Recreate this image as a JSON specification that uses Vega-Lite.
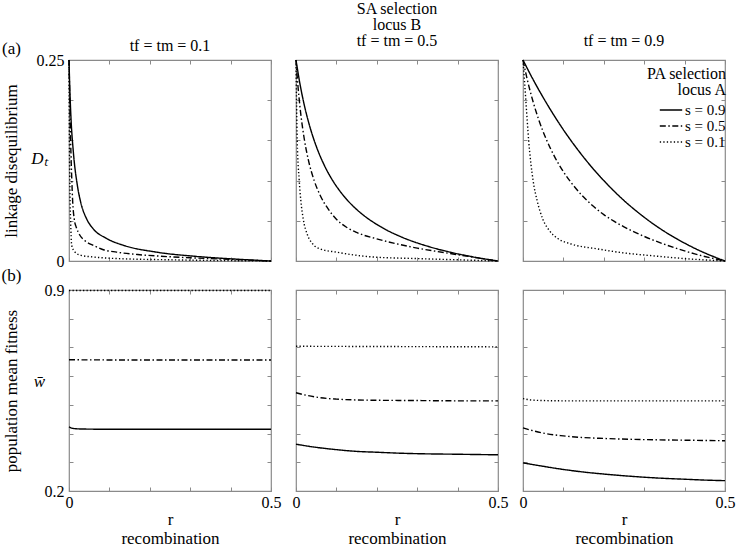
{
  "$schema": "https://vega.github.io/schema/vega-lite/v6.json",
  "background": "white",
  "padding": {"left": 0, "top": 0, "right": 0, "bottom": 0},
  "config": {
    "font": "Liberation Serif",
    "style": {"guide-label": {"font": "Liberation Serif"}, "guide-title": {"font": "Liberation Serif"}, "group-title": {"font": "Liberation Serif"}},
    "view": {"stroke": "#8a8a8a", "strokeWidth": 1.2},
    "axis": {"domain": false, "grid": false, "tickColor": "#8a8a8a", "tickSize": -4, "tickWidth": 1, "labelFont": "Liberation Serif", "labelFontSize": 16, "labelColor": "black", "labelFlush": false, "labelOverlap": false, "labelPadding": 9, "titleFont": "Liberation Serif", "titleFontSize": 17, "titleFontWeight": "normal", "titleColor": "black"},
    "legend": {"labelFont": "Liberation Serif", "titleFont": "Liberation Serif"},
    "title": {"font": "Liberation Serif", "fontSize": 16, "fontWeight": "normal", "color": "black", "offset": 8, "lineHeight": 16}
  },
  "datasets": {
    "ld": [
      {"t":0.1,"s":"0.9","r":0,"v":0.25},{"t":0.1,"s":"0.9","r":0.0017,"v":0.219},{"t":0.1,"s":"0.9","r":0.005,"v":0.177},{"t":0.1,"s":"0.9","r":0.0107,"v":0.136},{"t":0.1,"s":"0.9","r":0.0207,"v":0.094},{"t":0.1,"s":"0.9","r":0.029,"v":0.073},{"t":0.1,"s":"0.9","r":0.044,"v":0.052},{"t":0.1,"s":"0.9","r":0.06,"v":0.04},{"t":0.1,"s":"0.9","r":0.093,"v":0.028},{"t":0.1,"s":"0.9","r":0.135,"v":0.0195},{"t":0.1,"s":"0.9","r":0.217,"v":0.011},{"t":0.1,"s":"0.9","r":0.308,"v":0.006},{"t":0.1,"s":"0.9","r":0.391,"v":0.003},{"t":0.1,"s":"0.9","r":0.45,"v":0.0013},{"t":0.1,"s":"0.9","r":0.5,"v":0},
      {"t":0.1,"s":"0.5","r":0,"v":0.25},{"t":0.1,"s":"0.5","r":0.002,"v":0.2},{"t":0.1,"s":"0.5","r":0.004,"v":0.15},{"t":0.1,"s":"0.5","r":0.007,"v":0.1},{"t":0.1,"s":"0.5","r":0.009,"v":0.075},{"t":0.1,"s":"0.5","r":0.013,"v":0.052},{"t":0.1,"s":"0.5","r":0.018,"v":0.042},{"t":0.1,"s":"0.5","r":0.027,"v":0.032},{"t":0.1,"s":"0.5","r":0.04,"v":0.025},{"t":0.1,"s":"0.5","r":0.06,"v":0.0195},{"t":0.1,"s":"0.5","r":0.085,"v":0.014},{"t":0.1,"s":"0.5","r":0.118,"v":0.011},{"t":0.1,"s":"0.5","r":0.17,"v":0.008},{"t":0.1,"s":"0.5","r":0.226,"v":0.006},{"t":0.1,"s":"0.5","r":0.3,"v":0.004},{"t":0.1,"s":"0.5","r":0.4,"v":0.002},{"t":0.1,"s":"0.5","r":0.5,"v":0},
      {"t":0.1,"s":"0.1","r":0,"v":0.25},{"t":0.1,"s":"0.1","r":0.001,"v":0.15},{"t":0.1,"s":"0.1","r":0.0025,"v":0.08},{"t":0.1,"s":"0.1","r":0.004,"v":0.05},{"t":0.1,"s":"0.1","r":0.0066,"v":0.0195},{"t":0.1,"s":"0.1","r":0.015,"v":0.011},{"t":0.1,"s":"0.1","r":0.03,"v":0.007},{"t":0.1,"s":"0.1","r":0.06,"v":0.005},{"t":0.1,"s":"0.1","r":0.12,"v":0.003},{"t":0.1,"s":"0.1","r":0.25,"v":0.0015},{"t":0.1,"s":"0.1","r":0.5,"v":0},
      {"t":0.5,"s":"0.9","r":0,"v":0.25},{"t":0.5,"s":"0.9","r":0.01,"v":0.2197},{"t":0.5,"s":"0.9","r":0.02,"v":0.1951},{"t":0.5,"s":"0.9","r":0.035,"v":0.1658},{"t":0.5,"s":"0.9","r":0.05,"v":0.1429},{"t":0.5,"s":"0.9","r":0.07,"v":0.1191},{"t":0.5,"s":"0.9","r":0.09,"v":0.1007},{"t":0.5,"s":"0.9","r":0.11,"v":0.0861},{"t":0.5,"s":"0.9","r":0.13,"v":0.0741},{"t":0.5,"s":"0.9","r":0.15,"v":0.0642},{"t":0.5,"s":"0.9","r":0.175,"v":0.0539},{"t":0.5,"s":"0.9","r":0.2,"v":0.0455},{"t":0.5,"s":"0.9","r":0.225,"v":0.0383},{"t":0.5,"s":"0.9","r":0.25,"v":0.0323},{"t":0.5,"s":"0.9","r":0.275,"v":0.027},{"t":0.5,"s":"0.9","r":0.3,"v":0.0225},{"t":0.5,"s":"0.9","r":0.325,"v":0.0185},{"t":0.5,"s":"0.9","r":0.35,"v":0.0149},{"t":0.5,"s":"0.9","r":0.375,"v":0.0118},{"t":0.5,"s":"0.9","r":0.4,"v":0.0089},{"t":0.5,"s":"0.9","r":0.425,"v":0.0064},{"t":0.5,"s":"0.9","r":0.45,"v":0.004},{"t":0.5,"s":"0.9","r":0.475,"v":0.0019},{"t":0.5,"s":"0.9","r":0.5,"v":0},
      {"t":0.5,"s":"0.5","r":0,"v":0.25},{"t":0.5,"s":"0.5","r":0.005,"v":0.2168},{"t":0.5,"s":"0.5","r":0.01,"v":0.191},{"t":0.5,"s":"0.5","r":0.02,"v":0.1533},{"t":0.5,"s":"0.5","r":0.03,"v":0.127},{"t":0.5,"s":"0.5","r":0.045,"v":0.1},{"t":0.5,"s":"0.5","r":0.06,"v":0.0815},{"t":0.5,"s":"0.5","r":0.08,"v":0.0644},{"t":0.5,"s":"0.5","r":0.1,"v":0.052},{"t":0.5,"s":"0.5","r":0.125,"v":0.042},{"t":0.5,"s":"0.5","r":0.15,"v":0.0355},{"t":0.5,"s":"0.5","r":0.2,"v":0.0275},{"t":0.5,"s":"0.5","r":0.25,"v":0.0213},{"t":0.5,"s":"0.5","r":0.3,"v":0.016},{"t":0.5,"s":"0.5","r":0.35,"v":0.0118},{"t":0.5,"s":"0.5","r":0.4,"v":0.0078},{"t":0.5,"s":"0.5","r":0.45,"v":0.0039},{"t":0.5,"s":"0.5","r":0.5,"v":0},
      {"t":0.5,"s":"0.1","r":0,"v":0.25},{"t":0.5,"s":"0.1","r":0.003,"v":0.15},{"t":0.5,"s":"0.1","r":0.008,"v":0.1},{"t":0.5,"s":"0.1","r":0.012,"v":0.075},{"t":0.5,"s":"0.1","r":0.018,"v":0.052},{"t":0.5,"s":"0.1","r":0.028,"v":0.033},{"t":0.5,"s":"0.1","r":0.041,"v":0.0215},{"t":0.5,"s":"0.1","r":0.06,"v":0.015},{"t":0.5,"s":"0.1","r":0.1,"v":0.011},{"t":0.5,"s":"0.1","r":0.19,"v":0.005},{"t":0.5,"s":"0.1","r":0.3,"v":0.003},{"t":0.5,"s":"0.1","r":0.4,"v":0.0015},{"t":0.5,"s":"0.1","r":0.5,"v":0},
      {"t":0.9,"s":"0.9","r":0,"v":0.25},{"t":0.9,"s":"0.9","r":0.025,"v":0.2257},{"t":0.9,"s":"0.9","r":0.05,"v":0.2033},{"t":0.9,"s":"0.9","r":0.075,"v":0.1825},{"t":0.9,"s":"0.9","r":0.1,"v":0.1632},{"t":0.9,"s":"0.9","r":0.125,"v":0.1455},{"t":0.9,"s":"0.9","r":0.15,"v":0.1291},{"t":0.9,"s":"0.9","r":0.175,"v":0.1139},{"t":0.9,"s":"0.9","r":0.2,"v":0.1},{"t":0.9,"s":"0.9","r":0.225,"v":0.0871},{"t":0.9,"s":"0.9","r":0.25,"v":0.0752},{"t":0.9,"s":"0.9","r":0.275,"v":0.0644},{"t":0.9,"s":"0.9","r":0.3,"v":0.0544},{"t":0.9,"s":"0.9","r":0.325,"v":0.0452},{"t":0.9,"s":"0.9","r":0.35,"v":0.0368},{"t":0.9,"s":"0.9","r":0.375,"v":0.0292},{"t":0.9,"s":"0.9","r":0.4,"v":0.0222},{"t":0.9,"s":"0.9","r":0.425,"v":0.0158},{"t":0.9,"s":"0.9","r":0.45,"v":0.01},{"t":0.9,"s":"0.9","r":0.475,"v":0.0048},{"t":0.9,"s":"0.9","r":0.5,"v":0},
      {"t":0.9,"s":"0.5","r":0,"v":0.25},{"t":0.9,"s":"0.5","r":0.01,"v":0.2269},{"t":0.9,"s":"0.5","r":0.025,"v":0.198},{"t":0.9,"s":"0.5","r":0.04,"v":0.1742},{"t":0.9,"s":"0.5","r":0.058,"v":0.151},{"t":0.9,"s":"0.5","r":0.08,"v":0.128},{"t":0.9,"s":"0.5","r":0.1,"v":0.1111},{"t":0.9,"s":"0.5","r":0.125,"v":0.0938},{"t":0.9,"s":"0.5","r":0.15,"v":0.0795},{"t":0.9,"s":"0.5","r":0.175,"v":0.0677},{"t":0.9,"s":"0.5","r":0.2,"v":0.0577},{"t":0.9,"s":"0.5","r":0.225,"v":0.0495},{"t":0.9,"s":"0.5","r":0.25,"v":0.0425},{"t":0.9,"s":"0.5","r":0.275,"v":0.0362},{"t":0.9,"s":"0.5","r":0.3,"v":0.0306},{"t":0.9,"s":"0.5","r":0.325,"v":0.0255},{"t":0.9,"s":"0.5","r":0.35,"v":0.0208},{"t":0.9,"s":"0.5","r":0.375,"v":0.0165},{"t":0.9,"s":"0.5","r":0.4,"v":0.0125},{"t":0.9,"s":"0.5","r":0.425,"v":0.0089},{"t":0.9,"s":"0.5","r":0.45,"v":0.0056},{"t":0.9,"s":"0.5","r":0.475,"v":0.0027},{"t":0.9,"s":"0.5","r":0.5,"v":0},
      {"t":0.9,"s":"0.1","r":0,"v":0.25},{"t":0.9,"s":"0.1","r":0.007,"v":0.2},{"t":0.9,"s":"0.1","r":0.014,"v":0.15},{"t":0.9,"s":"0.1","r":0.025,"v":0.1},{"t":0.9,"s":"0.1","r":0.035,"v":0.075},{"t":0.9,"s":"0.1","r":0.049,"v":0.052},{"t":0.9,"s":"0.1","r":0.065,"v":0.038},{"t":0.9,"s":"0.1","r":0.086,"v":0.028},{"t":0.9,"s":"0.1","r":0.12,"v":0.021},{"t":0.9,"s":"0.1","r":0.185,"v":0.015},{"t":0.9,"s":"0.1","r":0.25,"v":0.01},{"t":0.9,"s":"0.1","r":0.31,"v":0.007},{"t":0.9,"s":"0.1","r":0.4,"v":0.003},{"t":0.9,"s":"0.1","r":0.5,"v":0}
    ],
    "fit": [
      {"t":0.1,"s":"0.9","r":0,"v":0.423},{"t":0.1,"s":"0.9","r":0.01,"v":0.418},{"t":0.1,"s":"0.9","r":0.03,"v":0.416},{"t":0.1,"s":"0.9","r":0.1,"v":0.415},{"t":0.1,"s":"0.9","r":0.3,"v":0.415},{"t":0.1,"s":"0.9","r":0.5,"v":0.415},
      {"t":0.1,"s":"0.5","r":0,"v":0.657},{"t":0.1,"s":"0.5","r":0.25,"v":0.656},{"t":0.1,"s":"0.5","r":0.5,"v":0.656},
      {"t":0.1,"s":"0.1","r":0,"v":0.898},{"t":0.1,"s":"0.1","r":0.25,"v":0.898},{"t":0.1,"s":"0.1","r":0.5,"v":0.898},
      {"t":0.5,"s":"0.9","r":0,"v":0.363},{"t":0.5,"s":"0.9","r":0.05,"v":0.352},{"t":0.5,"s":"0.9","r":0.1,"v":0.344},{"t":0.5,"s":"0.9","r":0.15,"v":0.338},{"t":0.5,"s":"0.9","r":0.2,"v":0.335},{"t":0.5,"s":"0.9","r":0.25,"v":0.332},{"t":0.5,"s":"0.9","r":0.3,"v":0.33},{"t":0.5,"s":"0.9","r":0.4,"v":0.328},{"t":0.5,"s":"0.9","r":0.5,"v":0.326},
      {"t":0.5,"s":"0.5","r":0,"v":0.542},{"t":0.5,"s":"0.5","r":0.03,"v":0.532},{"t":0.5,"s":"0.5","r":0.06,"v":0.525},{"t":0.5,"s":"0.5","r":0.1,"v":0.52},{"t":0.5,"s":"0.5","r":0.15,"v":0.517},{"t":0.5,"s":"0.5","r":0.2,"v":0.516},{"t":0.5,"s":"0.5","r":0.3,"v":0.515},{"t":0.5,"s":"0.5","r":0.4,"v":0.514},{"t":0.5,"s":"0.5","r":0.5,"v":0.514},
      {"t":0.5,"s":"0.1","r":0,"v":0.704},{"t":0.5,"s":"0.1","r":0.25,"v":0.703},{"t":0.5,"s":"0.1","r":0.5,"v":0.702},
      {"t":0.9,"s":"0.9","r":0,"v":0.298},{"t":0.9,"s":"0.9","r":0.05,"v":0.286},{"t":0.9,"s":"0.9","r":0.1,"v":0.275},{"t":0.9,"s":"0.9","r":0.15,"v":0.266},{"t":0.9,"s":"0.9","r":0.2,"v":0.259},{"t":0.9,"s":"0.9","r":0.25,"v":0.253},{"t":0.9,"s":"0.9","r":0.3,"v":0.248},{"t":0.9,"s":"0.9","r":0.35,"v":0.244},{"t":0.9,"s":"0.9","r":0.4,"v":0.241},{"t":0.9,"s":"0.9","r":0.45,"v":0.238},{"t":0.9,"s":"0.9","r":0.5,"v":0.236},
      {"t":0.9,"s":"0.5","r":0,"v":0.42},{"t":0.9,"s":"0.5","r":0.03,"v":0.408},{"t":0.9,"s":"0.5","r":0.06,"v":0.399},{"t":0.9,"s":"0.5","r":0.1,"v":0.392},{"t":0.9,"s":"0.5","r":0.14,"v":0.387},{"t":0.9,"s":"0.5","r":0.2,"v":0.383},{"t":0.9,"s":"0.5","r":0.3,"v":0.379},{"t":0.9,"s":"0.5","r":0.4,"v":0.377},{"t":0.9,"s":"0.5","r":0.5,"v":0.375},
      {"t":0.9,"s":"0.1","r":0,"v":0.522},{"t":0.9,"s":"0.1","r":0.02,"v":0.517},{"t":0.9,"s":"0.1","r":0.05,"v":0.515},{"t":0.9,"s":"0.1","r":0.1,"v":0.514},{"t":0.9,"s":"0.1","r":0.5,"v":0.514}
    ]
  },
  "bounds": "flush",
  "columns": 3,
  "spacing": {"row": 29, "column": 25},
  "resolve": {"scale": {"x": "independent", "y": "independent", "strokeDash": "independent"}, "axis": {"x": "independent", "y": "independent"}, "legend": {"strokeDash": "independent"}},
  "concat": [
    {
      "width": 202, "height": 201,
      "title": {"text": "tf = tm = 0.1", "font": "Liberation Serif", "dy": 23},
      "data": {"name": "ld"},
      "transform": [{"filter": "datum.t == 0.1"}],
      "resolve": {"axis": {"x": "independent", "y": "independent"}},
      "layer": [
        {"mark": {"type": "line", "color": "black", "strokeWidth": 1.4, "interpolate": "monotone"},
         "encoding": {
           "x": {"field": "r", "type": "quantitative", "scale": {"domain": [0, 0.5], "nice": false}, "axis": {"orient": "bottom", "values": [0, 0.1, 0.2, 0.3, 0.4, 0.5], "labels": false, "title": null}},
           "y": {"field": "v", "type": "quantitative", "scale": {"domain": [0, 0.25], "nice": false, "zero": false}, "axis": {"orient": "left", "values": [0, 0.05, 0.1, 0.15, 0.2, 0.25], "labelFont": "Liberation Serif", "labelExpr": "datum.value == 0 ? '0' : datum.value == 0.25 ? '0.25' : ''", "title": "linkage disequilibrium", "titleX": -58, "titleY": 100.5, "titleAngle": -90, "titleBaseline": "middle", "titleAlign": "center"}},
           "strokeDash": {"field": "s", "type": "nominal", "scale": {"domain": ["0.9", "0.5", "0.1"], "range": [[1, 0], [6, 2.5, 1.5, 2.5], [1.3, 2.2]]}, "legend": null}
         }},
        {"mark": {"type": "line", "opacity": 0},
         "encoding": {
           "x": {"field": "r", "type": "quantitative", "scale": {"domain": [0, 0.5], "nice": false}, "axis": {"orient": "top", "values": [0, 0.1, 0.2, 0.3, 0.4, 0.5], "labels": false, "title": "(a)", "titleX": -58, "titleY": -12, "titleAngle": 0, "titleBaseline": "middle", "titleAlign": "center"}},
           "y": {"field": "v", "type": "quantitative", "scale": {"domain": [0, 0.25], "nice": false, "zero": false}, "axis": {"orient": "left", "ticks": false, "labels": false, "title": "Dₜ", "titleFontStyle": "italic", "titleX": -30, "titleY": 98, "titleAngle": 0, "titleBaseline": "middle", "titleAlign": "center"}},
           "detail": {"field": "s", "type": "nominal"}
         }},
        {"mark": {"type": "line", "opacity": 0},
         "encoding": {
           "x": {"field": "r", "type": "quantitative", "scale": {"domain": [0, 0.5], "nice": false}, "axis": null},
           "y": {"field": "v", "type": "quantitative", "scale": {"domain": [0, 0.25], "nice": false, "zero": false}, "axis": {"orient": "right", "values": [0, 0.05, 0.1, 0.15, 0.2, 0.25], "labels": false, "title": null}},
           "detail": {"field": "s", "type": "nominal"}
         }}
      ]
    },
    {
      "width": 202, "height": 201,
      "title": {"text": ["SA selection", "locus B", "tf = tm = 0.5"], "font": "Liberation Serif"},
      "data": {"name": "ld"},
      "transform": [{"filter": "datum.t == 0.5"}],
      "resolve": {"axis": {"x": "independent", "y": "independent"}},
      "layer": [
        {"mark": {"type": "line", "color": "black", "strokeWidth": 1.4, "interpolate": "monotone"},
         "encoding": {
           "x": {"field": "r", "type": "quantitative", "scale": {"domain": [0, 0.5], "nice": false}, "axis": {"orient": "bottom", "values": [0, 0.1, 0.2, 0.3, 0.4, 0.5], "labels": false, "title": null}},
           "y": {"field": "v", "type": "quantitative", "scale": {"domain": [0, 0.25], "nice": false, "zero": false}, "axis": {"orient": "left", "values": [0, 0.05, 0.1, 0.15, 0.2, 0.25], "labels": false, "title": null}},
           "strokeDash": {"field": "s", "type": "nominal", "scale": {"domain": ["0.9", "0.5", "0.1"], "range": [[1, 0], [6, 2.5, 1.5, 2.5], [1.3, 2.2]]}, "legend": null}
         }},
        {"mark": {"type": "line", "opacity": 0},
         "encoding": {
           "x": {"field": "r", "type": "quantitative", "scale": {"domain": [0, 0.5], "nice": false}, "axis": {"orient": "top", "values": [0, 0.1, 0.2, 0.3, 0.4, 0.5], "labels": false, "title": null}},
           "y": {"field": "v", "type": "quantitative", "scale": {"domain": [0, 0.25], "nice": false, "zero": false}, "axis": {"orient": "right", "values": [0, 0.05, 0.1, 0.15, 0.2, 0.25], "labels": false, "title": null}},
           "detail": {"field": "s", "type": "nominal"}
         }}
      ]
    },
    {
      "width": 202, "height": 201,
      "title": {"text": "tf = tm = 0.9", "font": "Liberation Serif"},
      "data": {"name": "ld"},
      "transform": [{"filter": "datum.t == 0.9"}],
      "resolve": {"axis": {"x": "independent", "y": "independent"}},
      "layer": [
        {"mark": {"type": "line", "color": "black", "strokeWidth": 1.4, "interpolate": "monotone"},
         "encoding": {
           "x": {"field": "r", "type": "quantitative", "scale": {"domain": [0, 0.5], "nice": false}, "axis": {"orient": "bottom", "values": [0, 0.1, 0.2, 0.3, 0.4, 0.5], "labels": false, "title": null}},
           "y": {"field": "v", "type": "quantitative", "scale": {"domain": [0, 0.25], "nice": false, "zero": false}, "axis": {"orient": "left", "values": [0, 0.05, 0.1, 0.15, 0.2, 0.25], "labels": false, "title": null}},
           "strokeDash": {"field": "s", "type": "nominal", "scale": {"domain": ["0.9", "0.5", "0.1"], "range": [[1, 0], [6, 2.5, 1.5, 2.5], [1.3, 2.2]]},
             "legend": {"orient": "none", "legendX": 123, "legendY": 6, "title": ["PA selection", "locus A"], "titleAnchor": "end", "titleAlign": "right", "titleFont": "Liberation Serif", "titleFontSize": 16, "titleFontWeight": "normal", "titleColor": "black", "titleLineHeight": 16, "titlePadding": 4, "labelFont": "Liberation Serif", "labelFontSize": 15, "labelColor": "black", "labelExpr": "'s = ' + datum.label", "symbolType": "M-1.6,0H1.6", "symbolStrokeColor": "black", "symbolStrokeWidth": 1.3, "symbolSize": 196, "rowPadding": -4, "labelOffset": 6, "padding": 0}}
         }},
        {"mark": {"type": "line", "opacity": 0},
         "encoding": {
           "x": {"field": "r", "type": "quantitative", "scale": {"domain": [0, 0.5], "nice": false}, "axis": {"orient": "top", "values": [0, 0.1, 0.2, 0.3, 0.4, 0.5], "labels": false, "title": null}},
           "y": {"field": "v", "type": "quantitative", "scale": {"domain": [0, 0.25], "nice": false, "zero": false}, "axis": {"orient": "right", "values": [0, 0.05, 0.1, 0.15, 0.2, 0.25], "labels": false, "title": null}},
           "detail": {"field": "s", "type": "nominal"}
         }}
      ]
    },
    {
      "width": 202, "height": 201,
      "data": {"name": "fit"},
      "transform": [{"filter": "datum.t == 0.1"}],
      "resolve": {"axis": {"x": "independent", "y": "independent"}},
      "layer": [
        {"mark": {"type": "line", "color": "black", "strokeWidth": 1.4, "interpolate": "monotone"},
         "encoding": {
           "x": {"field": "r", "type": "quantitative", "scale": {"domain": [0, 0.5], "nice": false}, "axis": {"orient": "bottom", "values": [0, 0.1, 0.2, 0.3, 0.4, 0.5], "labelFont": "Liberation Serif", "labelExpr": "datum.value == 0 ? '0' : datum.value == 0.5 ? '0.5' : ''", "labelPadding": 7, "title": ["r", "recombination"], "titleFont": "Liberation Serif", "titleX": 101, "titleY": 28, "titleLineHeight": 19, "titleBaseline": "middle", "titleAlign": "center"}},
           "y": {"field": "v", "type": "quantitative", "scale": {"domain": [0.2, 0.9], "nice": false, "zero": false}, "axis": {"orient": "left", "values": [0.2, 0.3, 0.4, 0.5, 0.6, 0.7, 0.8, 0.9], "labelFont": "Liberation Serif", "labelExpr": "datum.value == 0.2 ? '0.2' : datum.value == 0.9 ? '0.9' : ''", "title": "population mean fitness", "titleX": -58, "titleY": 100.5, "titleAngle": -90, "titleBaseline": "middle", "titleAlign": "center"}},
           "strokeDash": {"field": "s", "type": "nominal", "scale": {"domain": ["0.9", "0.5", "0.1"], "range": [[1, 0], [6, 2.5, 1.5, 2.5], [1.3, 2.2]]}, "legend": null}
         }},
        {"mark": {"type": "line", "opacity": 0},
         "encoding": {
           "x": {"field": "r", "type": "quantitative", "scale": {"domain": [0, 0.5], "nice": false}, "axis": {"orient": "top", "values": [0, 0.1, 0.2, 0.3, 0.4, 0.5], "labels": false, "title": "(b)", "titleX": -58, "titleY": -15, "titleAngle": 0, "titleBaseline": "middle", "titleAlign": "center"}},
           "y": {"field": "v", "type": "quantitative", "scale": {"domain": [0.2, 0.9], "nice": false, "zero": false}, "axis": {"orient": "left", "ticks": false, "labels": false, "title": "w̄", "titleFontStyle": "italic", "titleX": -30, "titleY": 91, "titleAngle": 0, "titleBaseline": "middle", "titleAlign": "center"}},
           "detail": {"field": "s", "type": "nominal"}
         }},
        {"mark": {"type": "line", "opacity": 0},
         "encoding": {
           "x": {"field": "r", "type": "quantitative", "scale": {"domain": [0, 0.5], "nice": false}, "axis": null},
           "y": {"field": "v", "type": "quantitative", "scale": {"domain": [0.2, 0.9], "nice": false, "zero": false}, "axis": {"orient": "right", "values": [0.2, 0.3, 0.4, 0.5, 0.6, 0.7, 0.8, 0.9], "labels": false, "title": null}},
           "detail": {"field": "s", "type": "nominal"}
         }}
      ]
    },
    {
      "width": 202, "height": 201,
      "data": {"name": "fit"},
      "transform": [{"filter": "datum.t == 0.5"}],
      "resolve": {"axis": {"x": "independent", "y": "independent"}},
      "layer": [
        {"mark": {"type": "line", "color": "black", "strokeWidth": 1.4, "interpolate": "monotone"},
         "encoding": {
           "x": {"field": "r", "type": "quantitative", "scale": {"domain": [0, 0.5], "nice": false}, "axis": {"orient": "bottom", "values": [0, 0.1, 0.2, 0.3, 0.4, 0.5], "labelFont": "Liberation Serif", "labelExpr": "datum.value == 0 ? '0' : datum.value == 0.5 ? '0.5' : ''", "labelPadding": 7, "title": ["r", "recombination"], "titleFont": "Liberation Serif", "titleX": 101, "titleY": 28, "titleLineHeight": 19, "titleBaseline": "middle", "titleAlign": "center"}},
           "y": {"field": "v", "type": "quantitative", "scale": {"domain": [0.2, 0.9], "nice": false, "zero": false}, "axis": {"orient": "left", "values": [0.2, 0.3, 0.4, 0.5, 0.6, 0.7, 0.8, 0.9], "labels": false, "title": null}},
           "strokeDash": {"field": "s", "type": "nominal", "scale": {"domain": ["0.9", "0.5", "0.1"], "range": [[1, 0], [6, 2.5, 1.5, 2.5], [1.3, 2.2]]}, "legend": null}
         }},
        {"mark": {"type": "line", "opacity": 0},
         "encoding": {
           "x": {"field": "r", "type": "quantitative", "scale": {"domain": [0, 0.5], "nice": false}, "axis": {"orient": "top", "values": [0, 0.1, 0.2, 0.3, 0.4, 0.5], "labels": false, "title": null}},
           "y": {"field": "v", "type": "quantitative", "scale": {"domain": [0.2, 0.9], "nice": false, "zero": false}, "axis": {"orient": "right", "values": [0.2, 0.3, 0.4, 0.5, 0.6, 0.7, 0.8, 0.9], "labels": false, "title": null}},
           "detail": {"field": "s", "type": "nominal"}
         }}
      ]
    },
    {
      "width": 202, "height": 201,
      "data": {"name": "fit"},
      "transform": [{"filter": "datum.t == 0.9"}],
      "resolve": {"axis": {"x": "independent", "y": "independent"}},
      "layer": [
        {"mark": {"type": "line", "color": "black", "strokeWidth": 1.4, "interpolate": "monotone"},
         "encoding": {
           "x": {"field": "r", "type": "quantitative", "scale": {"domain": [0, 0.5], "nice": false}, "axis": {"orient": "bottom", "values": [0, 0.1, 0.2, 0.3, 0.4, 0.5], "labelFont": "Liberation Serif", "labelExpr": "datum.value == 0 ? '0' : datum.value == 0.5 ? '0.5' : ''", "labelPadding": 7, "title": ["r", "recombination"], "titleFont": "Liberation Serif", "titleX": 101, "titleY": 28, "titleLineHeight": 19, "titleBaseline": "middle", "titleAlign": "center"}},
           "y": {"field": "v", "type": "quantitative", "scale": {"domain": [0.2, 0.9], "nice": false, "zero": false}, "axis": {"orient": "left", "values": [0.2, 0.3, 0.4, 0.5, 0.6, 0.7, 0.8, 0.9], "labels": false, "title": null}},
           "strokeDash": {"field": "s", "type": "nominal", "scale": {"domain": ["0.9", "0.5", "0.1"], "range": [[1, 0], [6, 2.5, 1.5, 2.5], [1.3, 2.2]]}, "legend": null}
         }},
        {"mark": {"type": "line", "opacity": 0},
         "encoding": {
           "x": {"field": "r", "type": "quantitative", "scale": {"domain": [0, 0.5], "nice": false}, "axis": {"orient": "top", "values": [0, 0.1, 0.2, 0.3, 0.4, 0.5], "labels": false, "title": null}},
           "y": {"field": "v", "type": "quantitative", "scale": {"domain": [0.2, 0.9], "nice": false, "zero": false}, "axis": {"orient": "right", "values": [0.2, 0.3, 0.4, 0.5, 0.6, 0.7, 0.8, 0.9], "labels": false, "title": null}},
           "detail": {"field": "s", "type": "nominal"}
         }}
      ]
    }
  ]
}
